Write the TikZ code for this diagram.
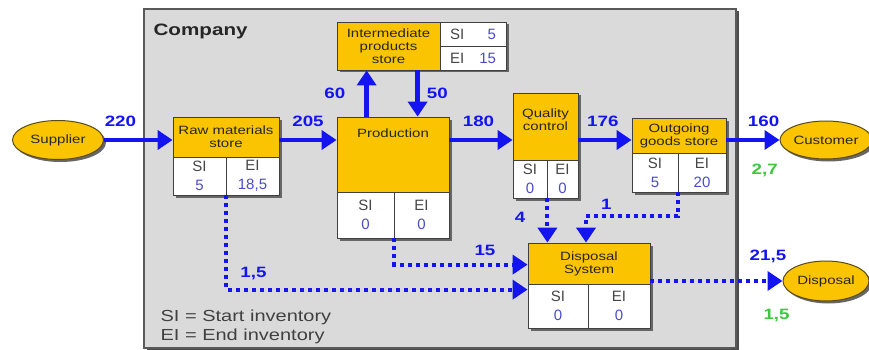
\documentclass[tikz,border=0pt]{standalone}
\usepackage{fontspec}
\setmainfont{Liberation Sans}
\newfontfamily\widesans{Liberation Sans}[FakeStretch=1.25]
\usetikzlibrary{arrows.meta,positioning,shapes.geometric,shadows,calc}
\definecolor{boxyellow}{RGB}{250,196,0}
\definecolor{framegray}{RGB}{218,218,218}
\definecolor{flowblue}{RGB}{20,20,240}
\definecolor{numblue}{RGB}{75,75,205}
\definecolor{lossgreen}{RGB}{60,200,60}
\definecolor{celltext}{RGB}{70,70,70}
\definecolor{ellline}{RGB}{90,75,20}
\newcommand{\inv}[1]{\textcolor{numblue}{#1}}
\begin{document}
\begin{tikzpicture}[x=1pt,y=-1pt,
  boxshadow/.style={drop shadow={shadow xshift=2.5pt,shadow yshift=-2.5pt,fill=black!60,opacity=1}},
  frame/.style={draw=black!65,line width=1.2pt,fill=framegray,inner sep=0pt,drop shadow={shadow xshift=2.5pt,shadow yshift=-2pt,fill=black!70,opacity=1}},
  htext/.style={font=\widesans\fontsize{12}{13}\selectfont,text=black!85,inner sep=0pt,align=center},
  hdr/.style={htext,draw=black!75,line width=0.8pt,fill=boxyellow,boxshadow},
  cell/.style={draw=black!75,line width=0.8pt,fill=white,inner sep=0pt,align=center,font=\fontsize{15}{19}\selectfont,text=celltext,boxshadow},
  endpoint/.style={ellipse,htext,draw=ellline,line width=1pt,fill=boxyellow,boxshadow},
  lab/.style={font=\widesans\bfseries\fontsize{15}{15}\selectfont,text=flowblue,inner sep=1pt},
  loss/.style={lab,text=lossgreen},
  flow/.style={draw=flowblue,line width=4.5pt,-{Triangle[length=15pt,width=19pt]}},
  dotflow/.style={draw=flowblue,line width=4pt,dash pattern=on 4pt off 4pt,-{Triangle[length=15pt,width=19pt]}}]
\path[use as bounding box,fill=white] (0,0) rectangle (869,350);
\node[frame,minimum width=592pt,minimum height=339pt] (co) at (440,178.5) {};
\node[font=\widesans\bfseries\fontsize{16.5}{17}\selectfont,text=black!85,inner sep=0pt,below right=15pt and 10pt of co.north west] (cot) {Company};
\node[font=\widesans\fontsize{16}{19}\selectfont,text=black!75,inner sep=0pt,align=left,above right=4.5pt and 17pt of co.south west] (leg) {SI = Start inventory\\EI = End inventory};

\node[endpoint,minimum width=91pt,minimum height=39pt] (sup) at (58,140) {Supplier};
\node[endpoint,minimum width=85pt,minimum height=38pt] (cust) at (826,140) {Customer};
\node[endpoint,minimum width=86pt,minimum height=40pt] (dsp) at (826,281) {Disposal};

\node[hdr,minimum width=106pt,minimum height=40pt] (rawh) at (226,137) {Raw materials\\store};
\node[cell,minimum width=53pt,minimum height=38pt] (rawL) at (199.5,176) {SI\\\inv{5}};
\node[cell,minimum width=53pt,minimum height=38pt] (rawR) at (252.5,176) {EI\\\inv{18,5}};

\node[hdr,minimum width=112pt,minimum height=75pt] (prodh) at (393,154.5) {};
\node[htext,below=12pt of prodh.north] (prodt) {Production};
\node[cell,minimum width=57pt,minimum height=46pt] (prodL) at (365.5,215) {SI\\\inv{0}};
\node[cell,minimum width=55pt,minimum height=46pt] (prodR) at (421.5,215) {EI\\\inv{0}};

\node[hdr,minimum width=103pt,minimum height=48pt] (imh) at (388.5,46) {Intermediate\\products\\store};
\node[cell,minimum width=66pt,minimum height=24pt,text width=46pt] (imSI) at (473,34) {SI\hfill\inv{5}};
\node[cell,minimum width=66pt,minimum height=24pt,text width=46pt] (imEI) at (473,58) {EI\hfill\inv{15}};

\node[hdr,minimum width=65pt,minimum height=67pt] (qch) at (545.5,126.5) {};
\node[htext,below=16pt of qch.north] (qct) {Quality\\control};
\node[cell,minimum width=34pt,minimum height=38pt] (qcL) at (530,179) {SI\\\inv{0}};
\node[cell,minimum width=31pt,minimum height=38pt] (qcR) at (562.5,179) {EI\\\inv{0}};

\node[hdr,minimum width=94pt,minimum height=35pt] (outh) at (679,135.5) {Outgoing\\goods store};
\node[cell,minimum width=46pt,minimum height=39pt] (outL) at (655,172.5) {SI\\\inv{5}};
\node[cell,minimum width=48pt,minimum height=39pt] (outR) at (702,172.5) {EI\\\inv{20}};

\node[hdr,minimum width=122pt,minimum height=41pt] (disph) at (589,263.5) {Disposal\\System};
\node[cell,minimum width=60pt,minimum height=44pt] (dispL) at (558,306) {SI\\\inv{0}};
\node[cell,minimum width=62pt,minimum height=44pt] (dispR) at (619,306) {EI\\\inv{0}};

\draw[flow] (sup) -- node[lab,pos=0.24,above=10pt] (l220) {220} (rawh.west |- sup);
\draw[flow] (rawh.east |- sup) -- node[lab,pos=0.5,above=10pt] (l205) {205} (prodh.west |- sup);
\draw[flow] (prodh.east |- sup) -- node[lab,pos=0.46,above=10pt] (l180) {180} (qch.west |- sup);
\draw[flow] (qch.east |- sup) -- node[lab,pos=0.46,above=10pt] (l176) {176} (outh.west |- sup);
\draw[flow] (outh.east |- sup) -- node[lab,pos=0.7,above=10pt] (l160) {160} node[loss,pos=0.72,below=21pt] (l27) {2,7} (cust);
\draw[flow] ($(prodh.north west)+(30,0)$) -- node[lab,pos=0.51,left=18pt] (l60) {60} ($(imh.south west)+(30,0)$);
\draw[flow] ($(imh.south west)+(81,0)$) -- node[lab,pos=0.49,right=6pt] (l50) {50} ($(prodh.north west)+(81,0)$);

\draw[dotflow] (rawL.south east) |- node[lab,pos=0.5,anchor=south west,xshift=11pt,yshift=7pt] (l15a) {1,5} ($(dispL.north west)+(0,6)$);
\draw[dotflow] (prodL.south east) |- node[lab,pos=0.84,above=6pt] (l15) {15} ($(disph.north west)+(0,22)$);
\draw[dotflow] (qcL.south east) -- node[lab,pos=0.42,left=19pt] (l4) {4} (qcL.south east |- disph.north);
\draw[dotflow] (outL.south east) -- ++(0,24) -| node[lab,pos=0.39,above=4pt] (l1) {1} ($(disph.north)+(-3,0)$);
\draw[dotflow] (disph.east |- dsp) -- node[lab,pos=0.89,above=15pt] (l215) {21,5} node[loss,pos=0.955,below=25pt] (l15b) {1,5} (dsp);
\end{tikzpicture}
\end{document}
